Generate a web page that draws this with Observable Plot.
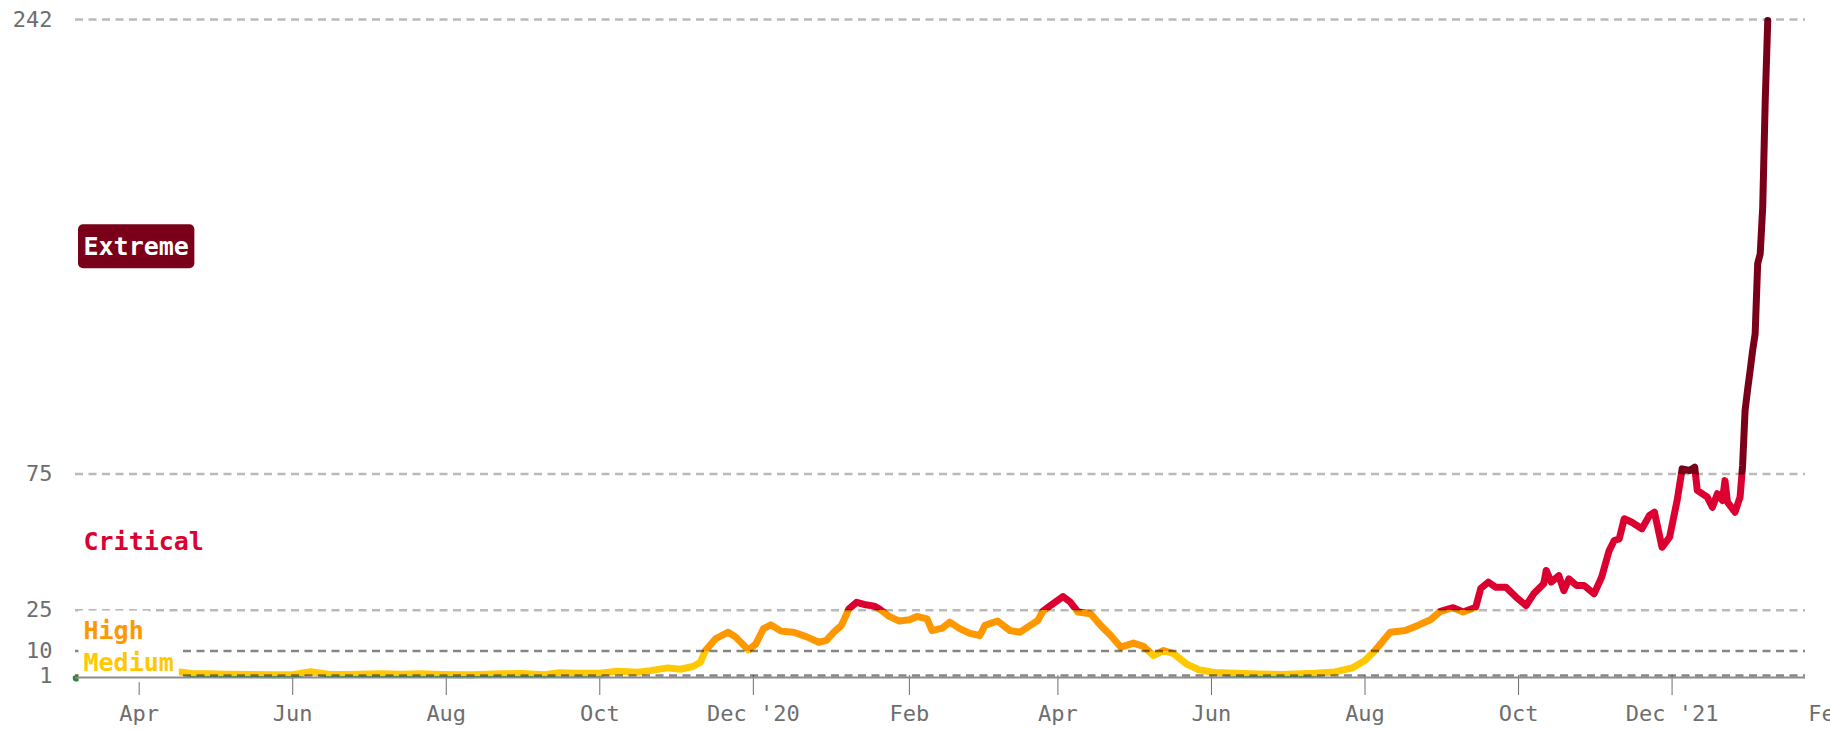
<!DOCTYPE html>
<html>
<head>
<meta charset="utf-8">
<script src="https://cdn.jsdelivr.net/npm/d3@7"></script>
<script src="https://cdn.jsdelivr.net/npm/@observablehq/plot@0.6"></script>
<style>
  html, body { margin: 0; padding: 0; background: #fff; overflow: hidden; }
  #chart svg { display: block; }
  #err { position: absolute; left: 300px; top: 60px; color: #c00; font: 16px monospace; white-space: pre; }
</style>
</head>
<body>
<div id="chart"></div>
<div id="err"></div>
<script>
// ---- data ----
const dates = [
  "2020-03-07","2020-03-14","2020-03-21","2020-03-28","2020-04-05","2020-04-12","2020-04-17","2020-04-22",
  "2020-04-28","2020-05-06","2020-05-15","2020-05-24","2020-06-01","2020-06-08","2020-06-15","2020-06-23",
  "2020-07-06","2020-07-14","2020-07-22","2020-07-30","2020-08-11","2020-08-23","2020-08-31","2020-09-09",
  "2020-09-15","2020-09-22","2020-10-01","2020-10-08","2020-10-16","2020-10-21","2020-10-28","2020-11-02",
  "2020-11-07","2020-11-10","2020-11-12","2020-11-16","2020-11-21","2020-11-24","2020-11-29","2020-12-02",
  "2020-12-05","2020-12-08","2020-12-12","2020-12-17","2020-12-22","2020-12-27","2020-12-30","2021-01-02",
  "2021-01-05","2021-01-08","2021-01-11","2021-01-14","2021-01-18","2021-01-20","2021-01-24","2021-01-28",
  "2021-02-01","2021-02-04","2021-02-08","2021-02-10","2021-02-14","2021-02-17","2021-02-21","2021-02-25",
  "2021-03-01","2021-03-03","2021-03-08","2021-03-13","2021-03-17","2021-03-21","2021-03-24","2021-03-26",
  "2021-03-29","2021-04-03","2021-04-06","2021-04-09","2021-04-14","2021-04-18","2021-04-22","2021-04-26",
  "2021-05-01","2021-05-05","2021-05-09","2021-05-13","2021-05-17","2021-05-22","2021-05-27","2021-06-02",
  "2021-06-16","2021-06-29","2021-07-12","2021-07-20","2021-07-27","2021-08-01","2021-08-05","2021-08-11",
  "2021-08-17","2021-08-22","2021-08-27","2021-08-31","2021-09-05","2021-09-09","2021-09-14","2021-09-16",
  "2021-09-19","2021-09-22","2021-09-26","2021-09-30","2021-10-04","2021-10-07","2021-10-11","2021-10-12",
  "2021-10-14","2021-10-17","2021-10-19","2021-10-21","2021-10-24","2021-10-27","2021-10-31","2021-11-03",
  "2021-11-06","2021-11-08","2021-11-10","2021-11-12","2021-11-15","2021-11-19","2021-11-22","2021-11-24",
  "2021-11-27","2021-11-30","2021-12-03","2021-12-05","2021-12-08","2021-12-10","2021-12-11","2021-12-15",
  "2021-12-17","2021-12-19","2021-12-21","2021-12-22","2021-12-23","2021-12-26","2021-12-28","2021-12-29",
  "2021-12-30","2021-12-31","2022-01-01","2022-01-02","2022-01-03","2022-01-04","2022-01-05","2022-01-06",
  "2022-01-07","2022-01-08"
];
const values = [
  0.1, 0.6, 1.5, 2.2, 2.6, 2.5, 2.3, 1.7,
  1.6, 1.5, 1.4, 1.3, 1.3, 2.4, 1.5, 1.4,
  1.6, 1.5, 1.6, 1.4, 1.3, 1.6, 1.7, 1.3,
  2.0, 1.8, 1.8, 2.6, 2.2, 2.8, 3.8, 3.3,
  4.3, 5.9, 10.2, 14.5, 16.9, 15.1, 10.4, 12.6,
  18.2, 19.6, 17.3, 16.9, 15.3, 13.2, 13.9, 16.9,
  19.4, 25.5, 27.9, 27.1, 26.5, 25.5, 22.7, 21.0,
  21.5, 22.7, 21.8, 17.5, 18.4, 20.6, 18.2, 16.5,
  15.7, 19.4, 21.0, 17.5, 16.9, 19.4, 21.2, 24.6,
  26.7, 30.0, 27.9, 24.3, 23.7, 19.4, 15.7, 11.4,
  12.9, 11.7, 8.3, 10.2, 9.0, 5.3, 3.1, 2.1,
  1.6, 1.4, 1.8, 2.3, 3.8, 6.5, 10.2, 16.9,
  17.5, 19.4, 21.5, 24.6, 25.9, 24.3, 26.1, 33.0,
  35.3, 33.4, 33.4, 29.8, 26.7, 31.0, 34.7, 39.6,
  35.3, 37.7, 32.2, 36.5, 34.1, 34.1, 31.0, 37.1,
  46.9, 50.6, 51.2, 58.6, 57.3, 54.9, 59.8, 61.0,
  48.1, 51.8, 65.3, 76.9, 76.3, 77.5, 69.0, 66.5,
  62.8, 67.8, 65.3, 72.6, 64.7, 61.0, 66.5, 78.0,
  98.4, 106, 113, 120.4, 126.5, 152.3, 155.9, 173.0,
  212.2, 241.6
];
const yTicks = [1, 10, 25, 75, 242];
const xTickDates = ["2020-04-01","2020-06-01","2020-08-01","2020-10-01","2020-12-01","2021-02-01",
                    "2021-04-01","2021-06-01","2021-08-01","2021-10-01","2021-12-01","2022-02-01"];
const xTickLabels = ["Apr","Jun","Aug","Oct","Dec '20","Feb","Apr","Jun","Aug","Oct","Dec '21","Feb"];
const levelNames = ["Medium", "High", "Critical", "Extreme"];
const levelBounds = [1, 10, 25, 75, 242]; // lower/upper limits of each named level
const xDomain = ["2020-03-06T17:00:00Z", "2022-01-23T00:00:00Z"];

// ---- styles ----
const lowColor = "#2e8540";
const levelColors = ["#ffc800", "#ff9800", "#dc0030", "#7a0019"];
const gridDark = new Set([1, 10]);

const errBox = document.getElementById("err");
function report(msg) { errBox.textContent += msg + "\n"; }

try {
// ---- build ----
const data = dates.map((d, i) => ({date: new Date(d + "T00:00:00Z"), value: values[i]}));
const tickDates = xTickDates.map(d => new Date(d + "T00:00:00Z"));
const tickLabelByTime = new Map(tickDates.map((d, i) => [+d, xTickLabels[i]]));
const labels = levelNames.map((name, i) => ({
  name, mid: (levelBounds[i] + levelBounds[i + 1]) / 2,
  color: name === "Extreme" ? "white" : levelColors[i]
}));

const chart = Plot.plot({
  width: 1830,
  height: 730,
  marginTop: 19,
  marginBottom: 55,
  marginLeft: 75,
  marginRight: 25,
  style: {
    fontFamily: "'DejaVu Sans Mono', monospace",
    fontSize: "22px",
    color: "#6e6e6e",
    background: "white"
  },
  x: {
    type: "utc",
    domain: xDomain.map(d => new Date(d)),
    ticks: tickDates,
    tickFormat: d => tickLabelByTime.get(+d) ?? "",
    tickSize: 20,
    tickPadding: 10,
    label: null
  },
  y: {
    domain: [1, 242],
    ticks: yTicks,
    tickSize: 0,
    tickPadding: 23,
    tickFormat: d => String(d),
    label: null
  },
  marks: [
    Plot.line(data, {
      x: "date", y: "value",
      stroke: "black", strokeWidth: 7,
      strokeLinecap: "round", strokeLinejoin: "round"
    }),
    Plot.ruleY(yTicks.filter(t => !gridDark.has(t)), {
      stroke: "black", strokeOpacity: 0.27, strokeWidth: 2.5, strokeDasharray: "8,5.5"
    }),
    Plot.ruleY(yTicks.filter(t => gridDark.has(t)), {
      stroke: "black", strokeOpacity: 0.48, strokeWidth: 2.5, strokeDasharray: "8,5.5"
    }),
    ...labels.map(l => Plot.text([l], {
      y: "mid", text: "name",
      frameAnchor: "left", textAnchor: "start", dx: 8,
      fill: l.color,
      fontFamily: "'DejaVu Sans Mono', monospace",
      fontSize: 25, fontWeight: "bold"
    })),
    Plot.ruleY([1], {stroke: "#8c8c8c", strokeWidth: 2, dy: 2})
  ]
});

document.getElementById("chart").appendChild(chart);
const svg = chart.tagName.toLowerCase() === "svg" ? chart : chart.querySelector("svg");

// ---- gradient stroke that switches colour at each risk threshold ----
const svgNS = "http://www.w3.org/2000/svg";
const ys = chart.scale("y");
const yPix = v => ys.range[0] + (v - ys.domain[0]) / (ys.domain[1] - ys.domain[0]) * (ys.range[1] - ys.range[0]);
const y1 = yPix(0), y2 = yPix(242);
const frac = v => (yPix(v) - y1) / (y2 - y1);
const defs = document.createElementNS(svgNS, "defs");
const grad = document.createElementNS(svgNS, "linearGradient");
grad.setAttribute("id", "riskGrad");
grad.setAttribute("gradientUnits", "userSpaceOnUse");
grad.setAttribute("x1", 0); grad.setAttribute("x2", 0);
grad.setAttribute("y1", y1); grad.setAttribute("y2", y2);
const stopColors = [lowColor, ...levelColors];
const cuts = levelBounds.slice(0, 4); // 1, 10, 25, 75
const stops = [[0, stopColors[0]]];
cuts.forEach((c, i) => { stops.push([frac(c), stopColors[i]]); stops.push([frac(c), stopColors[i + 1]]); });
stops.push([1, stopColors[4]]);
stops.forEach(([o, c]) => {
  const s = document.createElementNS(svgNS, "stop");
  s.setAttribute("offset", o);
  s.setAttribute("stop-color", c);
  grad.appendChild(s);
});
defs.appendChild(grad);
svg.insertBefore(defs, svg.firstChild);
const lineGroups = svg.querySelectorAll('g[aria-label="line"]');
lineGroups.forEach(g => {
  g.setAttribute("stroke", "url(#riskGrad)");
  g.querySelectorAll("path").forEach(p => p.setAttribute("stroke", "url(#riskGrad)"));
});

// ---- label backgrounds ----
const labelTexts = svg.querySelectorAll('g[aria-label="text"] text');
labelTexts.forEach(t => {
  const b = t.getBBox();
  const extreme = t.textContent === "Extreme";
  const padX = extreme ? 5.5 : 5, padY = extreme ? 7.5 : 5;
  const r = document.createElementNS(svgNS, "rect");
  r.setAttribute("x", b.x - padX);
  r.setAttribute("y", b.y - padY);
  r.setAttribute("width", b.width + 2 * padX);
  r.setAttribute("height", b.height + 2 * padY);
  r.setAttribute("rx", extreme ? 5 : 0);
  r.setAttribute("fill", extreme ? levelColors[3] : "white");
  r.setAttribute("stroke", "none");
  if (t.getAttribute("transform")) r.setAttribute("transform", t.getAttribute("transform"));
  t.parentNode.insertBefore(r, t);
});

// ---- hide tick marks that fall outside the plotting frame (label kept) ----
const rightEdge = 1830 - 25 + 3;
svg.querySelectorAll('[aria-label^="x-axis"] [transform]').forEach(el => {
  const m = /translate\(\s*([-\d.]+)/.exec(el.getAttribute("transform"));
  if (!m || +m[1] <= rightEdge) return;
  const tag = el.tagName.toLowerCase();
  if (tag === "g") el.querySelectorAll("line,path").forEach(n => n.setAttribute("display", "none"));
  else if (tag === "line" || tag === "path") el.setAttribute("display", "none");
});
if (!lineGroups.length || !labelTexts.length) report("lines:" + lineGroups.length + " labels:" + labelTexts.length);
} catch (e) {
  report(String(e && e.stack || e));
}
</script>
</body>
</html>
